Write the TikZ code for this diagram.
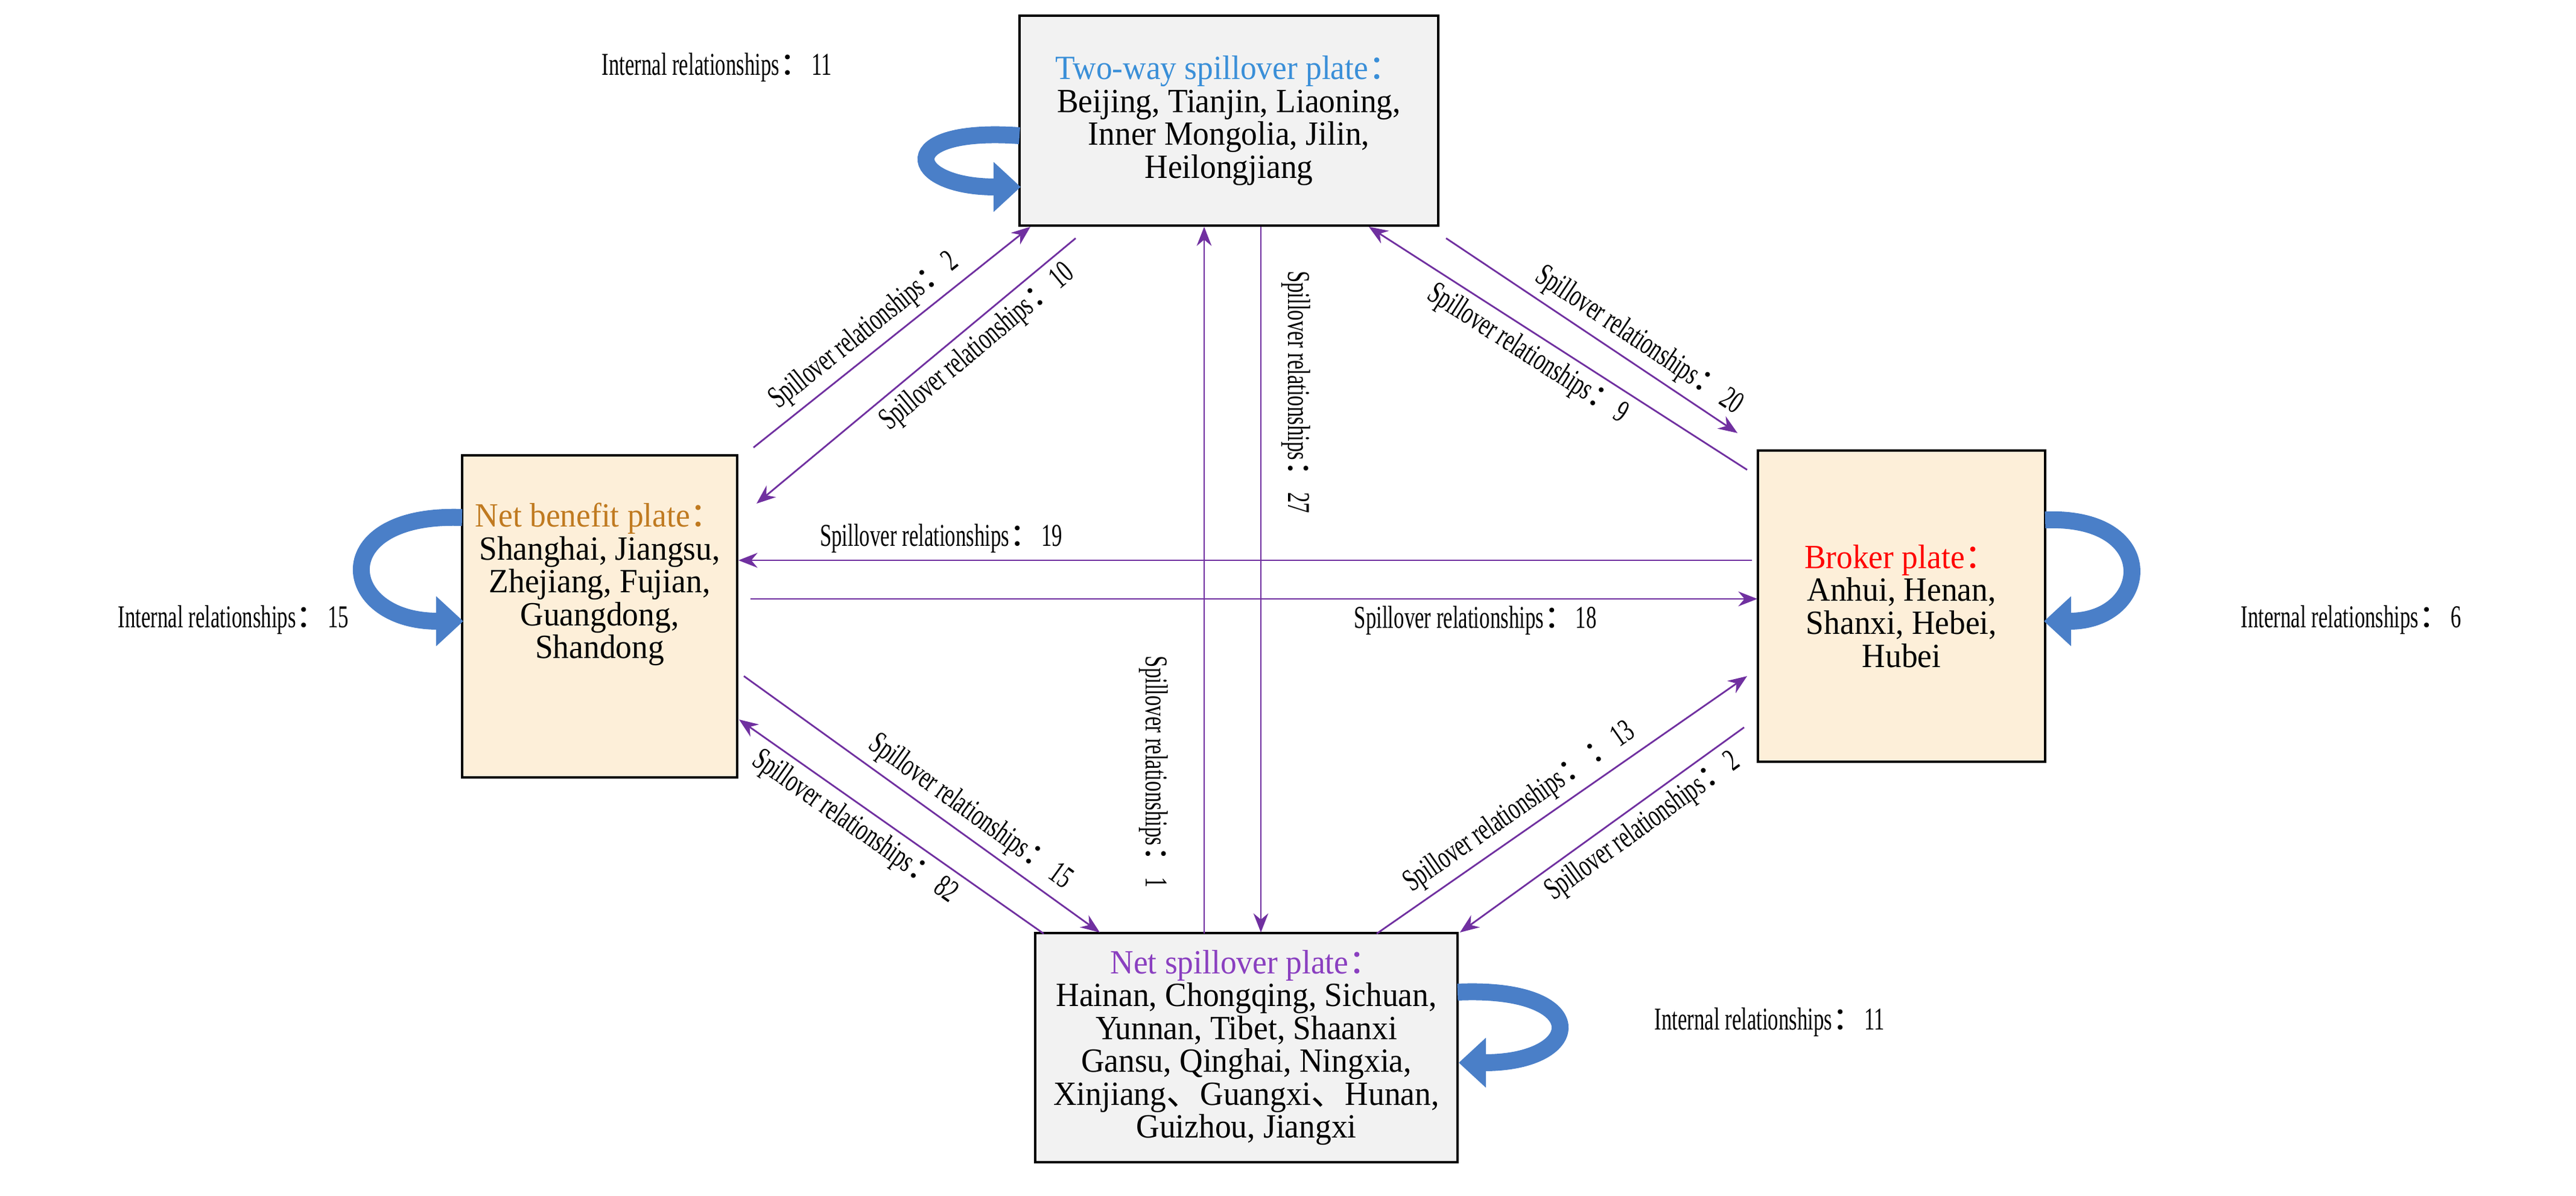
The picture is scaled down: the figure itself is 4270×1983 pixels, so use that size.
\documentclass[tikz,border=0pt]{standalone}
\usepackage{fontspec}
\setmainfont{Liberation Serif}
\newfontfamily\boxfont{Liberation Serif}[FakeStretch=0.95]
\newfontfamily\labfont{Liberation Serif}[FakeStretch=0.66]
\newfontfamily\cjk{Noto Sans CJK SC}
\newcommand\cc{{\cjk ：}}
\newcommand\dn{{\cjk 、}}
\usetikzlibrary{arrows.meta}
\definecolor{pur}{HTML}{7030A0}
\definecolor{grayfill}{HTML}{F2F2F2}
\definecolor{peach}{HTML}{FDEFD9}
\definecolor{loopblue}{HTML}{4A7FC8}
\tikzset{
  box/.style={draw=black,line width=1.1pt,align=center,inner sep=0pt,
    font=\boxfont\fontsize{16}{15.5}\selectfont},
  spill/.style={draw=pur,line width=0.8pt,-{Stealth[length=9pt,width=7pt]}},
  lab/.style={font=\labfont\fontsize{15}{16}\selectfont,sloped,inner sep=3pt},
  intl/.style={font=\labfont\fontsize{15}{16}\selectfont},
  loop/.style={draw=loopblue,line width=0.28cm,-{Triangle[length=0.45cm,width=0.8cm]}}
}
\begin{document}
\begin{tikzpicture}[x=0.01cm,y=-0.01cm]
\useasboundingbox (0,0) rectangle (4270,1983);
% boxes
\node[box,fill=grayfill,minimum width=6.94cm,minimum height=3.47cm] (top) at (2037,200)
 {{\color[HTML]{3A8FD8}Two-way spillover plate\cc}\\Beijing, Tianjin, Liaoning,\\Inner Mongolia, Jilin,\\Heilongjiang};
\node[box,fill=peach,minimum width=4.56cm,minimum height=5.34cm] (left) at (994,1022)
 {{\color[HTML]{C07A20}Net benefit plate\cc}\\Shanghai, Jiangsu,\\Zhejiang, Fujian,\\Guangdong,\\Shandong\\[18pt]};
\node[box,fill=peach,minimum width=4.75cm,minimum height=5.15cm] (right) at (3152,1005)
 {{\color{red}Broker plate\cc}\\Anhui, Henan,\\Shanxi, Hebei,\\Hubei};
\node[box,fill=grayfill,minimum width=7.0cm,minimum height=3.79cm] (bot) at (2066,1737)
 {{\color[HTML]{8A3FC0}Net spillover plate\cc}\\Hainan, Chongqing, Sichuan,\\Yunnan, Tibet, Shaanxi\\Gansu, Qinghai, Ningxia,\\Xinjiang\dn Guangxi\dn Hunan,\\Guizhou, Jiangxi};
% coordinates
\coordinate (a1) at (1249,742); \coordinate (a2) at (1708,376);
\coordinate (b1) at (1783,395); \coordinate (b2) at (1254,835);
\coordinate (c1) at (1996,1548); \coordinate (c2) at (1996,376);
\coordinate (d1) at (2090,376); \coordinate (d2) at (2090,1546);
\coordinate (e1) at (2397,395); \coordinate (e2) at (2880,718);
\coordinate (f1) at (2896,779); \coordinate (f2) at (2269,376);
\coordinate (g1) at (2904,929); \coordinate (g2) at (1224,929);
\coordinate (h1) at (1244,993); \coordinate (h2) at (2913,993);
\coordinate (i1) at (1233,1121); \coordinate (i2) at (1823,1546);
\coordinate (j1) at (1730,1548); \coordinate (j2) at (1225,1193);
\coordinate (k1) at (2282,1548); \coordinate (k2) at (2896,1121);
\coordinate (l1) at (2891,1206); \coordinate (l2) at (2420,1546);
% spillover arrows
\draw[spill] (a1) -- node[lab,above,pos=0.45]{Spillover relationships\cc 2} (a2);
\draw[spill] (b1) -- node[lab,below,pos=0.35]{Spillover relationships\cc 10} (b2);
\draw[spill] (c1) -- (c2);
\node[intl,rotate=-90] (l1lab) at (1912,1280) {Spillover relationships\cc 1};
\draw[spill] (d1) -- (d2);
\node[intl,rotate=-90] (l27lab) at (2148,650) {Spillover relationships\cc 27};
\draw[spill] (e1) -- node[lab,above,pos=0.62]{Spillover relationships\cc 20} (e2);
\draw[spill] (f1) -- node[lab,below,pos=0.55]{Spillover relationships\cc 9} (f2);
\draw[spill] (g1) -- node[lab,above,pos=0.8]{Spillover relationships\cc 19} (g2);
\draw[spill] (h1) -- node[lab,below,pos=0.72]{Spillover relationships\cc 18} (h2);
\draw[spill] (i1) -- node[lab,above,pos=0.6]{Spillover relationships\cc 15} (i2);
\draw[spill] (j1) -- node[lab,below,pos=0.58]{Spillover relationships\cc 82} (j2);
\draw[spill] (k1) -- node[lab,above,pos=0.42]{Spillover relationships\cc\cc 13} (k2);
\draw[spill] (l1) -- node[lab,below,pos=0.4]{Spillover relationships\cc 2} (l2);
% internal loops
\coordinate (t1) at (1690,225); \coordinate (t2) at (1692,310);
\draw[loop] (t1) .. controls (1480,210) and (1500,310) .. (t2);
\node[intl] (tlab) at (1188,112) {Internal relationships\cc 11};
\coordinate (p1) at (766,858); \coordinate (p2) at (768,1030);
\draw[loop] (p1) .. controls (540,850) and (560,1030) .. (p2);
\node[intl] (plab) at (387,1028) {Internal relationships\cc 15};
\coordinate (q1) at (3390,862); \coordinate (q2) at (3388,1030);
\draw[loop] (q1) .. controls (3585,855) and (3565,1030) .. (q2);
\node[intl] (qlab) at (3897,1028) {Internal relationships\cc 6};
\coordinate (r1) at (2416,1645); \coordinate (r2) at (2418,1762);
\draw[loop] (r1) .. controls (2640,1635) and (2630,1762) .. (r2);
\node[intl] (rlab) at (2933,1695) {Internal relationships\cc 11};
\end{tikzpicture}
\end{document}
